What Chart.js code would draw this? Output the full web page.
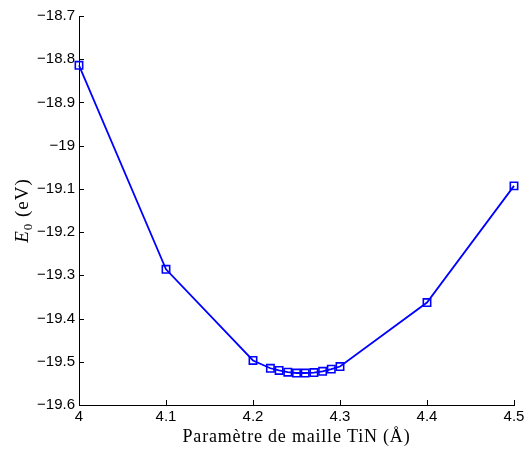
<!DOCTYPE html>
<html><head><meta charset="utf-8">
<script src="https://cdn.jsdelivr.net/npm/chart.js@4/dist/chart.umd.min.js"></script>
<style>html,body{margin:0;padding:0;background:#fff;}#wrap{width:529px;height:450px;position:relative}</style>
</head><body><div id="wrap"><canvas id="c" width="529" height="450"></canvas></div>
<script>
const latticeParams = [4.0, 4.1, 4.2, 4.22, 4.23, 4.24, 4.25, 4.26, 4.27, 4.28, 4.29, 4.30, 4.4, 4.5];
const energies = [-18.814, -19.286, -19.497, -19.515, -19.520, -19.524, -19.526, -19.526, -19.525, -19.522, -19.517, -19.511, -19.363, -19.093];
const xTickValues = [4.0, 4.1, 4.2, 4.3, 4.4, 4.5];
const yTickValues = [-18.7, -18.8, -18.9, -19.0, -19.1, -19.2, -19.3, -19.4, -19.5, -19.6];
const xTitle = 'Paramètre de maille TiN (Å)';
const yTitleSymbol = 'E';
const yTitleSub = '0';
const yTitleUnit = ' (eV)';

function fmt(v) {
  let s = (Math.round(v * 10) / 10).toFixed(1);
  if (s.endsWith('.0')) s = s.slice(0, -2);
  return s.replace('-', '\u2212');
}

const axisDeco = {
  id: 'axisDeco',
  afterDraw(chart) {
    const ctx = chart.ctx, a = chart.chartArea;
    const xs = chart.scales.x, ys = chart.scales.y;
    ctx.save();
    ctx.strokeStyle = '#000'; ctx.lineWidth = 1;
    ctx.beginPath();
    yTickValues.forEach(v => { const y = Math.round(ys.getPixelForValue(v)) + 0.5; ctx.moveTo(a.left, y); ctx.lineTo(a.left + 5, y); });
    xTickValues.forEach(v => { const x = Math.round(xs.getPixelForValue(v)) + 0.5; ctx.moveTo(x, a.bottom); ctx.lineTo(x, a.bottom - 5); });
    ctx.stroke();
    // x title
    ctx.fillStyle = '#000';
    ctx.font = '18px "Liberation Serif", serif';
    ctx.letterSpacing = '0.8px';
    ctx.textAlign = 'center'; ctx.textBaseline = 'alphabetic';
    ctx.fillText(xTitle, (a.left + a.right) / 2, 442);
    // y title
    ctx.translate(28, (a.top + a.bottom) / 2 + 0);
    ctx.rotate(-Math.PI / 2);
    ctx.letterSpacing = '1px';
    const fMain = 'italic 19px "Liberation Serif", serif';
    const fSub = '13px "Liberation Serif", serif';
    const fUnit = '19px "Liberation Serif", serif';
    ctx.font = fMain; const w1 = ctx.measureText(yTitleSymbol).width;
    ctx.font = fSub; const w2 = ctx.measureText(yTitleSub).width;
    ctx.font = fUnit; const w3 = ctx.measureText(yTitleUnit).width;
    let x0 = -(w1 + w2 + w3) / 2;
    ctx.textAlign = 'left';
    ctx.font = fMain; ctx.fillText(yTitleSymbol, x0, 0); x0 += w1;
    ctx.font = fSub; ctx.fillText(yTitleSub, x0, 4); x0 += w2;
    ctx.font = fUnit; ctx.fillText(yTitleUnit, x0, 0);
    ctx.restore();
  }
};

new Chart(document.getElementById('c'), {
  type: 'line',
  data: {
    datasets: [{
      data: latticeParams.map((x, i) => ({ x: x, y: energies[i] })),
      borderColor: '#0000ff',
      borderWidth: 1.8,
      tension: 0,
      pointStyle: 'rect',
      pointRadius: 5.2,
      pointBorderWidth: 1.6,
      pointBorderColor: '#0000ff',
      pointBackgroundColor: 'rgba(0,0,0,0)',
      clip: false
    }]
  },
  options: {
    responsive: false,
    devicePixelRatio: 1,
    animation: false,
    layout: { padding: { top: 16, right: 15, left: 0, bottom: 0 } },
    plugins: { legend: { display: false }, tooltip: { enabled: false } },
    scales: {
      x: {
        type: 'linear', min: 4.0, max: 4.5,
        afterBuildTicks: s => { s.ticks = xTickValues.map(v => ({ value: v })); },
        afterFit: s => { s.height = 45; },
        grid: { display: true, drawOnChartArea: false, drawTicks: false },
        border: { display: true, color: '#000', width: 1 },
        ticks: { padding: 3, color: '#000', font: { family: '"Liberation Sans", Arial, sans-serif', size: 15 }, maxRotation: 0, callback: v => String(Math.round(v * 10) / 10) }
      },
      y: {
        type: 'linear', min: -19.6, max: -18.7,
        afterBuildTicks: s => { s.ticks = yTickValues.map(v => ({ value: v })); },
        afterFit: s => { s.width = 79; },
        grid: { display: true, drawOnChartArea: false, drawTicks: false },
        border: { display: true, color: '#000', width: 1 },
        ticks: { padding: 4, color: '#000', font: { family: '"Liberation Sans", Arial, sans-serif', size: 15 }, callback: v => fmt(v) }
      }
    }
  },
  plugins: [axisDeco]
});
</script></body></html>
